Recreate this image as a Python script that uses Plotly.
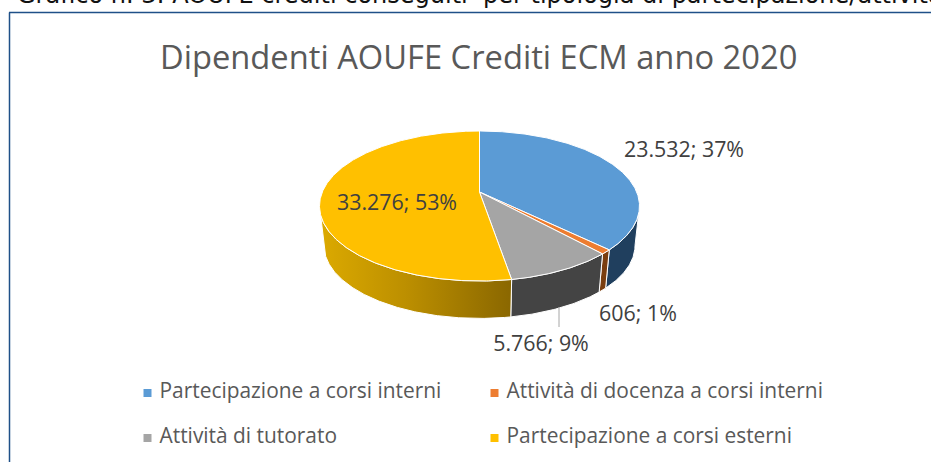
import math
import plotly.graph_objects as go

# --- data ---
categories = ["Partecipazione a corsi interni", "Attività di docenza a corsi interni",
              "Attività di tutorato", "Partecipazione a corsi esterni"]
values = [23532, 606, 5766, 33276]
title_text = "Dipendenti AOUFE Crediti ECM anno 2020"
caption_text = "Grafico n. 3: AOUFE crediti conseguiti  per tipologia di partecipazione/attività"

# --- style ---
top_colors = ["#5B9BD5", "#ED7D31", "#A5A5A5", "#FFC000"]
wall_colors = ["#203F5E", "#7A3E10", "#444444", "#B98C00"]
wall_gradients = [None, None, None, [[0, "#DCAA00"], [0.45, "#BC8F00"], [1, "#8A6700"]]]
label_xy = [(684, 152), (638, 316), (541, 346), (397, 205)]
legend_xy = [(147.5, 393), (494.5, 393), (147.5, 438), (494.5, 438)]

W, H = 931, 462
CX, APEX_Y = 479.5, 192.0
A, B, K = 157.2, -36.55, 0.18667   # projective model of the tilted disc
BOTTOM_SCALE, BOTTOM_Y, MID_Y = 0.972, 245.5, 206.0
RIGHT_T = math.degrees(math.acos(-K))
LEFT_T = 360 - RIGHT_T


def top_pt(t):
    u, v = math.sin(math.radians(t)), math.cos(math.radians(t))
    d = 1 + K * v
    return CX + A * u / d, (APEX_Y + B * v) / d


def bottom_pt(t):
    x, y = top_pt(t)
    return CX + (x - CX) * BOTTOM_SCALE, BOTTOM_Y + (y - MID_Y) * BOTTOM_SCALE


def arc(t0, t1, fn):
    n = max(2, int(abs(t1 - t0) * 2) + 1)
    return [fn(t0 + (t1 - t0) * i / (n - 1)) for i in range(n)]


total = sum(values)
edges = [0.0]
for val in values:
    edges.append(edges[-1] + val / total * 360)

fig = go.Figure()

# side walls
for i, name in enumerate(categories):
    t0, t1 = max(edges[i], RIGHT_T), min(edges[i + 1], LEFT_T)
    if t1 <= t0:
        continue
    pts = arc(t0, t1, top_pt) + arc(t1, t0, bottom_pt)
    xs, ys = zip(*pts)
    kw = dict(fillcolor=wall_colors[i])
    if wall_gradients[i]:
        kw = dict(fillgradient=dict(type="horizontal", colorscale=wall_gradients[i],
                                    start=min(xs), stop=max(xs)))
    fig.add_trace(go.Scatter(x=list(xs) + [xs[0]], y=list(ys) + [ys[0]], mode="lines", fill="toself",
                             line=dict(color="white", width=1), hoverinfo="skip", showlegend=False, **kw))

# top faces
for i, name in enumerate(categories):
    pts = [(CX, APEX_Y)] + arc(edges[i], edges[i + 1], top_pt) + [(CX, APEX_Y)]
    xs, ys = zip(*pts)
    fig.add_trace(go.Scatter(x=xs, y=ys, mode="lines", fill="toself", fillcolor=top_colors[i],
                             line=dict(color="white", width=1), name=name, showlegend=False))

# leader line of the tutoring label
fig.add_trace(go.Scatter(x=[559, 559], y=[307, 327], mode="lines", line=dict(color="#A6A6A6", width=1),
                         hoverinfo="skip", showlegend=False))

# data labels
labels = []
for val in values:
    s = f"{val:,}".replace(",", ".")
    labels.append(f"{s}; {round(val / total * 100)}%")
fig.add_trace(go.Scatter(x=[p[0] for p in label_xy], y=[p[1] for p in label_xy], mode="text", text=labels,
                         textposition="middle center", hoverinfo="skip", showlegend=False,
                         textfont=dict(family="Open Sans", size=21.4, color="#404040")))

# legend
fig.add_trace(go.Scatter(x=[p[0] for p in legend_xy], y=[p[1] for p in legend_xy], mode="markers",
                         marker=dict(symbol="square", size=8, color=top_colors), hoverinfo="skip", showlegend=False))
fig.add_trace(go.Scatter(x=[p[0] + 12 for p in legend_xy], y=[p[1] for p in legend_xy], mode="text", text=categories,
                         textposition="middle right", hoverinfo="skip", showlegend=False,
                         textfont=dict(family="Open Sans", size=20.9, color="#595959")))

fig.update_layout(
    width=W, height=H, margin=dict(l=0, r=0, t=0, b=0), paper_bgcolor="white", plot_bgcolor="white",
    xaxis=dict(range=[0, W], visible=False, fixedrange=True),
    yaxis=dict(range=[H, 0], visible=False, fixedrange=True),
    annotations=[
        dict(text=title_text, x=478.5, y=56, xref="x", yref="y", showarrow=False, xanchor="center", yanchor="middle",
             font=dict(family="Open Sans", size=32.7, color="#595959")),
        dict(text=caption_text, x=15, y=11, xref="x", yref="y", showarrow=False, xanchor="left", yanchor="bottom",
             font=dict(family="DejaVu Sans", size=24, color="#111111")),
    ],
    shapes=[
        dict(type="line", x0=9.5, x1=9.5, y0=12.5, y1=H, line=dict(color="#1F5088", width=1.5)),
        dict(type="line", x0=9, x1=W, y0=12.5, y1=12.5, line=dict(color="#1F5088", width=1.5)),
    ],
)
fig.write_html("out.html", config=dict(displayModeBar=False),
               post_script="document.body.style.margin='0';document.body.style.overflow='hidden';")
